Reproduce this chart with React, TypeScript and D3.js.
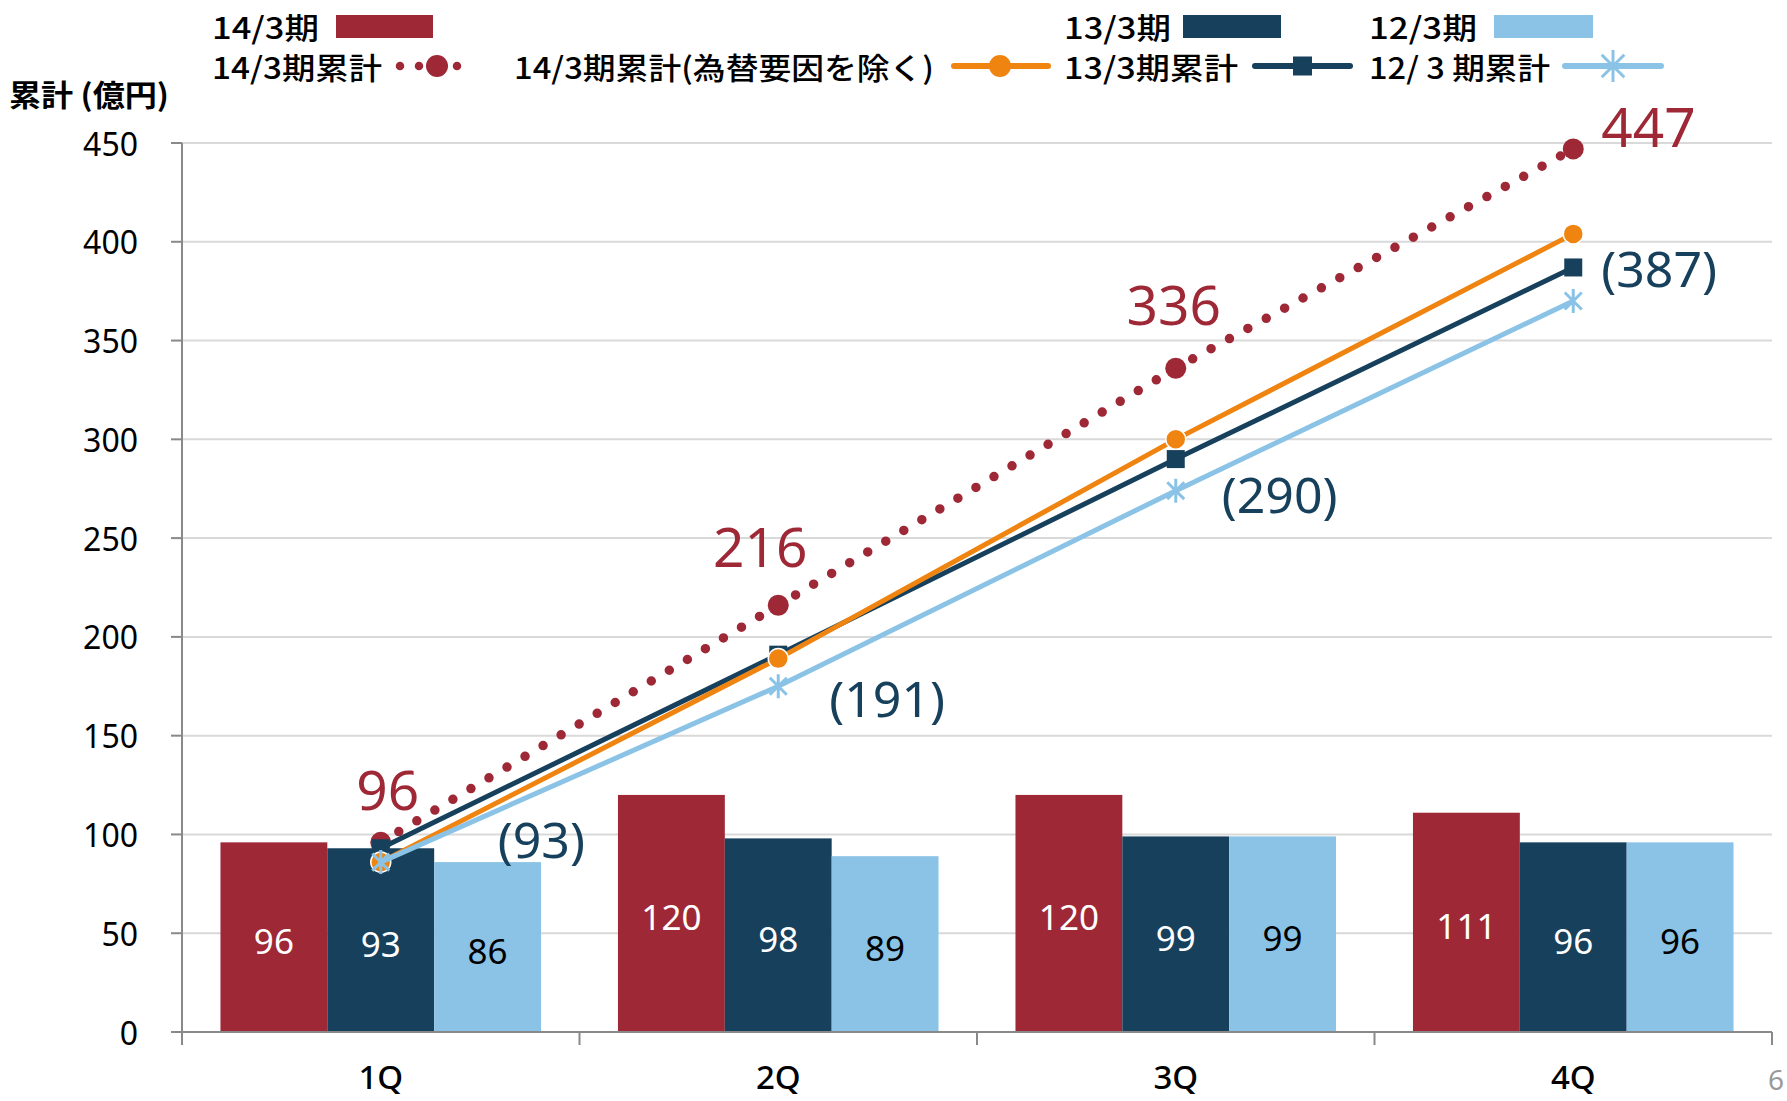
import React, { useRef, useEffect } from 'react';
import * as d3 from 'd3';

const CATEGORIES = ['1Q', '2Q', '3Q', '4Q'];
const BAR_SERIES = ['14/3期', '13/3期', '12/3期'];
const BAR_14 = [96, 120, 120, 111];
const BAR_13 = [93, 98, 99, 96];
const BAR_12 = [86, 89, 99, 96];

const CUM_14 = [96, 216, 336, 447];
const CUM_14_EXFX = [86, 189, 300, 404];
const CUM_13 = [93, 191, 290, 387];
const CUM_12 = [86, 175, 274, 370];

const Y_TICKS = [0, 50, 100, 150, 200, 250, 300, 350, 400, 450];

const RED = '#9e2836';
const NAVY = '#17405c';
const LIGHT = '#8bc3e6';
const ORANGE = '#ef8411';

const FONT_JP = '"Noto Sans CJK JP", "Noto Sans", sans-serif';
const FONT_NUM = '"Noto Sans", "Noto Sans CJK JP", sans-serif';

// label offsets from the point (layout only)
const RED_LABEL_OFF = [[7, -54, 'middle'], [-18, -60, 'middle'], [-2, -65, 'middle'], [28, -23, 'start']];
const NAVY_LABEL_OFF = [[117, -9], [51, 43], [46, 35], [28, 1]];

function App() {
  const ref = useRef<SVGSVGElement>(null);

  useEffect(() => {
    const svg = d3.select(ref.current);
    svg.selectAll('*').remove();

    const left = 182, right = 1772, top = 143, bottom = 1032;

    const x0 = d3.scaleBand().domain(CATEGORIES).range([left, right]).padding(0);
    const x1 = d3.scaleBand().domain(BAR_SERIES).range([0, x0.bandwidth()]).paddingInner(0).paddingOuter(0.36);
    const y = d3.scaleLinear().domain([0, 450]).range([bottom, top]);
    const cx = (c: string) => (x0(c) as number) + x0.bandwidth() / 2;

    // grid
    svg.append('g').selectAll('line').data(Y_TICKS.filter(t => t > 0)).enter().append('line')
      .attr('x1', left).attr('x2', right).attr('y1', d => y(d)).attr('y2', d => y(d))
      .attr('stroke', '#d9d9d9').attr('stroke-width', 2);

    // bars
    const barData = [BAR_14, BAR_13, BAR_12];
    const barColors = [RED, NAVY, LIGHT];
    const labelColors = ['#fff', '#fff', '#000'];
    BAR_SERIES.forEach((s, si) => {
      const g = svg.append('g');
      g.selectAll('rect').data(barData[si]).enter().append('rect')
        .attr('x', (d, i) => (x0(CATEGORIES[i]) as number) + (x1(s) as number))
        .attr('y', d => y(d))
        .attr('width', x1.bandwidth())
        .attr('height', d => y(0) - y(d))
        .attr('fill', barColors[si]);
      g.selectAll('text').data(barData[si]).enter().append('text')
        .attr('x', (d, i) => (x0(CATEGORIES[i]) as number) + (x1(s) as number) + x1.bandwidth() / 2)
        .attr('y', d => (y(d) + y(0)) / 2 + 3)
        .attr('text-anchor', 'middle').attr('dominant-baseline', 'central')
        .attr('fill', labelColors[si]).style('font-family', FONT_NUM).style('font-size', '35px')
        .text(d => d);
    });

    // axes
    svg.append('line').attr('x1', left).attr('x2', left).attr('y1', top).attr('y2', bottom)
      .attr('stroke', '#898989').attr('stroke-width', 2);
    svg.append('line').attr('x1', left).attr('x2', right).attr('y1', bottom).attr('y2', bottom)
      .attr('stroke', '#898989').attr('stroke-width', 2);
    svg.append('g').selectAll('line').data(Y_TICKS).enter().append('line')
      .attr('x1', left - 11).attr('x2', left).attr('y1', d => y(d)).attr('y2', d => y(d))
      .attr('stroke', '#898989').attr('stroke-width', 2);
    svg.append('g').selectAll('text').data(Y_TICKS).enter().append('text')
      .attr('x', 138).attr('y', d => y(d)).attr('text-anchor', 'end').attr('dominant-baseline', 'central')
      .style('font-family', FONT_NUM).style('font-size', '32px').attr('fill', '#000').text(d => d);
    const bounds = CATEGORIES.map(c => x0(c) as number).concat([right]);
    svg.append('g').selectAll('line').data(bounds).enter().append('line')
      .attr('x1', d => d).attr('x2', d => d).attr('y1', bottom).attr('y2', bottom + 13)
      .attr('stroke', '#898989').attr('stroke-width', 2);
    svg.append('g').selectAll('text').data(CATEGORIES).enter().append('text')
      .attr('x', d => cx(d)).attr('y', 1089).attr('text-anchor', 'middle')
      .style('font-family', FONT_NUM).style('font-size', '33px').style('font-weight', 500).text(d => d);

    svg.append('text').attr('x', 9).attr('y', 93).attr('dominant-baseline', 'central')
      .attr('textLength', 160).attr('lengthAdjust', 'spacingAndGlyphs')
      .style('font-family', FONT_JP).style('font-size', '30px').style('font-weight', 'bold').text('累計 (億円)');

    svg.append('text').attr('x', 1776).attr('y', 1090).attr('text-anchor', 'middle')
      .style('font-family', FONT_NUM).style('font-size', '28px').attr('fill', '#999').text('6');

    // lines
    const line = d3.line<number>().x((d, i) => cx(CATEGORIES[i])).y(d => y(d));

    const star = (g: any, x: number, yy: number, r: number, color: string, w: number) => {
      const d = r * Math.SQRT1_2;
      g.append('path')
        .attr('d', `M${x},${yy - r}L${x},${yy + r}M${x - d},${yy - d}L${x + d},${yy + d}M${x - d},${yy + d}L${x + d},${yy - d}`)
        .attr('stroke', color).attr('stroke-width', w).attr('fill', 'none');
    };

    // red dotted
    svg.append('path').datum(CUM_14).attr('d', line).attr('fill', 'none')
      .attr('stroke', RED).attr('stroke-width', 9.5).attr('stroke-linecap', 'round').attr('stroke-dasharray', '0 21');
    svg.append('g').selectAll('circle').data(CUM_14).enter().append('circle')
      .attr('cx', (d, i) => cx(CATEGORIES[i])).attr('cy', d => y(d)).attr('r', 10.5).attr('fill', RED);

    // navy
    svg.append('path').datum(CUM_13).attr('d', line).attr('fill', 'none').attr('stroke', NAVY).attr('stroke-width', 5);
    svg.append('g').selectAll('rect').data(CUM_13).enter().append('rect')
      .attr('x', (d, i) => cx(CATEGORIES[i]) - 9).attr('y', d => y(d) - 9).attr('width', 18).attr('height', 18).attr('fill', NAVY);

    // orange
    svg.append('path').datum(CUM_14_EXFX).attr('d', line).attr('fill', 'none').attr('stroke', ORANGE).attr('stroke-width', 5);
    svg.append('g').selectAll('circle').data(CUM_14_EXFX).enter().append('circle')
      .attr('cx', (d, i) => cx(CATEGORIES[i])).attr('cy', d => y(d)).attr('r', 10).attr('fill', ORANGE)
      .attr('stroke', '#fff').attr('stroke-width', 1.5);

    // light blue
    svg.append('path').datum(CUM_12).attr('d', line).attr('fill', 'none').attr('stroke', LIGHT).attr('stroke-width', 5);
    const sg = svg.append('g');
    CUM_12.forEach((v, i) => star(sg, cx(CATEGORIES[i]), y(v), 12, LIGHT, 3));

    // data labels
    svg.append('g').selectAll('text').data(CUM_14).enter().append('text')
      .attr('x', (d, i) => cx(CATEGORIES[i]) + (RED_LABEL_OFF[i][0] as number))
      .attr('y', (d, i) => y(d) + (RED_LABEL_OFF[i][1] as number))
      .attr('text-anchor', (d, i) => RED_LABEL_OFF[i][2] as string).attr('dominant-baseline', 'central')
      .style('font-family', FONT_NUM).style('font-size', '55px').attr('fill', RED).text(d => d);
    svg.append('g').selectAll('text').data(CUM_13).enter().append('text')
      .attr('x', (d, i) => cx(CATEGORIES[i]) + NAVY_LABEL_OFF[i][0])
      .attr('y', (d, i) => y(d) + NAVY_LABEL_OFF[i][1])
      .attr('dominant-baseline', 'central')
      .style('font-family', FONT_NUM).style('font-size', '50px').attr('fill', NAVY).text(d => `(${d})`);

    // legend
    const lg = svg.append('g').style('font-family', FONT_JP).style('font-size', '30px').style('font-weight', 500);
    const ltext = (x: number, yy: number, t: string, len: number) =>
      lg.append('text').attr('x', x).attr('y', yy).attr('dominant-baseline', 'central')
        .attr('textLength', len).attr('lengthAdjust', 'spacingAndGlyphs').text(t);

    ltext(212, 26, '14/3期', 107);
    lg.append('rect').attr('x', 336).attr('y', 15).attr('width', 97).attr('height', 23).attr('fill', RED);
    ltext(1064, 26, '13/3期', 107);
    lg.append('rect').attr('x', 1183).attr('y', 15).attr('width', 98).attr('height', 23).attr('fill', NAVY);
    ltext(1369, 26, '12/3期', 108);
    lg.append('rect').attr('x', 1494).attr('y', 15).attr('width', 99).attr('height', 23).attr('fill', LIGHT);

    const ly = 66;
    ltext(212, ly, '14/3期累計', 170);
    lg.append('line').attr('x1', 400).attr('x2', 476).attr('y1', ly).attr('y2', ly)
      .attr('stroke', RED).attr('stroke-width', 8.5).attr('stroke-linecap', 'round').attr('stroke-dasharray', '0 19');
    lg.append('circle').attr('cx', 437).attr('cy', ly).attr('r', 11).attr('fill', RED);

    ltext(514, ly, '14/3期累計(為替要因を除く)', 420);
    lg.append('line').attr('x1', 954).attr('x2', 1048).attr('y1', ly).attr('y2', ly)
      .attr('stroke', ORANGE).attr('stroke-width', 6).attr('stroke-linecap', 'round');
    lg.append('circle').attr('cx', 1000).attr('cy', ly).attr('r', 11).attr('fill', ORANGE);

    ltext(1064, ly, '13/3期累計', 174);
    lg.append('line').attr('x1', 1255).attr('x2', 1350).attr('y1', ly).attr('y2', ly)
      .attr('stroke', NAVY).attr('stroke-width', 6).attr('stroke-linecap', 'round');
    lg.append('rect').attr('x', 1293).attr('y', ly - 9.5).attr('width', 19).attr('height', 19).attr('fill', NAVY);

    ltext(1369, ly, '12/ 3 期累計', 181);
    lg.append('line').attr('x1', 1565).attr('x2', 1661).attr('y1', ly).attr('y2', ly)
      .attr('stroke', LIGHT).attr('stroke-width', 6).attr('stroke-linecap', 'round');
    star(lg, 1613, ly, 16, LIGHT, 3);
  }, []);

  return (
    <svg ref={ref} width={1787} height={1101}
      style={{ position: 'absolute', left: 0, top: 0, background: '#fff' }} />
  );
}

export default App;
